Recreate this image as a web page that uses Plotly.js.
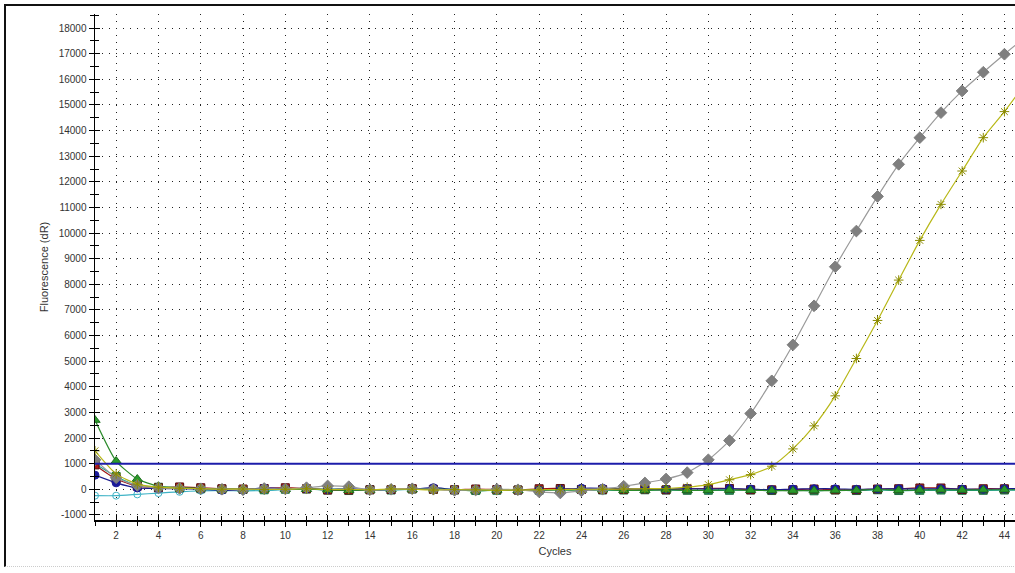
<!DOCTYPE html>
<html>
<head>
<meta charset="utf-8">
<script src="https://cdn.plot.ly/plotly-3.0.1.min.js"></script>
<style>
  html, body { margin: 0; padding: 0; background: #ffffff; }
  #wrap { position: relative; width: 1015px; height: 573px; overflow: hidden; background: #fff; }
  #frame { position: absolute; left: 4px; top: 4px; width: 1100px; height: 563px;
           border-top: 2px solid #111; border-left: 2px solid #111; border-bottom: 1px dotted #ccc; box-sizing: border-box; pointer-events: none; }
  #chart { position: absolute; left: 0; top: 0; width: 1015px; height: 573px; }
</style>
</head>
<body>
<div id="wrap">
  <div id="chart"></div>
  <div id="frame"></div>
</div>
<script>
// Cycles 1..45
const cycles = [1,2,3,4,5,6,7,8,9,10,11,12,13,14,15,16,17,18,19,20,21,22,23,24,25,26,27,28,29,30,31,32,33,34,35,36,37,38,39,40,41,42,43,44,45];

const threshold = 1000;

const grayDiamonds = [1150,450,150,50,30,20,0,-20,30,10, 60,130,100,-20,0,20,0,-40,-30,0, -20,-100,-145,-60,0,117,246,400,650,1150, 1900,2956,4232,5638,7161,8685,10078,11430,12683,13723, 14700,15547,16277,16980,17650];
const oliveStars   = [1500,600,200,80,40,20,0,10,-10,0, 20,-10,0,-20,10,0,-30,-10,-20,-40, -30,-20,-10,0,0,10,20,30,80,182, 370,570,900,1575,2474,3646,5104,6589,8164,9713, 11120,12422,13723,14740,15850];
const greenTriangles = [2700,1100,400,120,60,30,10,0,-10,0, 0,-20,-40,-30,0,-10,20,-20,-60,-30, -40,-20,-30,-30,-20,-40,-40,-20,-40,-40, -30,-40,-50,-60,-50,-50,-40,-10,-40,-30, -20,-30,-20,-20,-20];
const navyCircles  = [550,250,50,30,20,0,-40,-20,50,20, 20,-10,20,-10,-10,0,60,-10,-20,-10, -40,-30,0,40,40,20,10,0,30,10, 30,10,-20,10,20,20,0,10,20,10, 20,10,0,20,20];
const redSquares   = [950,400,120,60,90,60,20,10,30,60, 20,-30,-30,-20,-10,20,0,-20,10,-10, -30,20,30,-10,-10,0,10,-20,20,30, 30,-20,-20,-20,10,-20,-20,10,20,50, 50,-10,20,20,20];
const cyanCircles  = [-250,-250,-200,-150,-100,-60,-40,-60,-50,-20, 10,20,0,-20,-10,-10,20,-10,-20,-40, -30,-20,-20,-10,-10,-20,-30,-20,-30,-30, -20,-20,-10,-20,-30,-30,-30,-20,-40,-40, -40,-40,-30,-30,-30];
const tealSquares  = [1000,500,150,80,50,20,0,-10,-20,0, 10,-30,-50,-20,-30,10,-10,-30,-50,-40, -30,-40,-20,-10,-30,-30,-20,-30,-40,-40, -40,-30,-50,-40,-60,-30,-50,-20,-50,-40, -30,-40,-40,-30,-30];

const xTickVals = [2,4,6,8,10,12,14,16,18,20,22,24,26,28,30,32,34,36,38,40,42,44];
const yTickVals = [-1000,0,1000,2000,3000,4000,5000,6000,7000,8000,9000,10000,11000,12000,13000,14000,15000,16000,17000,18000];

function series(y, lineColor, markerSymbol, markerColor, lineOutline, size) {
  return {
    x: cycles, y: y, type: 'scatter', mode: 'lines+markers',
    line: { color: lineColor, width: 1.2, shape: 'spline', smoothing: 0.6 },
    marker: { symbol: markerSymbol, size: size || 8, color: markerColor,
              line: { color: lineOutline || markerColor, width: 1 } },
    hoverinfo: 'x+y', showlegend: false, cliponaxis: true
  };
}

const traces = [
  series(cyanCircles, '#3fb3c6', 'circle-open', '#3fb3c6', null, 7),
  series(tealSquares, '#14a091', 'square', '#1f8c4e', '#1f6e40', 8),
  series(redSquares, '#a01515', 'square', '#b01a1a', '#5a1010', 8),
  series(navyCircles, '#1a1a8c', 'circle', '#1a1a9a', null, 8),
  series(greenTriangles, '#2a8a2a', 'triangle-up', '#2a9a2a', '#1f6e1f', 9),
  series(grayDiamonds, '#9a9a9a', 'diamond', '#7f7f7f', null, 9),
  series(oliveStars, '#b8b818', 'asterisk', '#8a8a00', null, 8),
  { x: [], y: [], xaxis: 'x2', yaxis: 'y2', type: 'scatter', showlegend: false }
];

const tickFont = { family: 'Liberation Sans, Arial, sans-serif', size: 10, color: '#333' };

const layout = {
  width: 1015, height: 573,
  margin: { l: 95, r: 0, t: 14, b: 53 },
  paper_bgcolor: 'rgba(0,0,0,0)', plot_bgcolor: 'rgba(0,0,0,0)',
  showlegend: false,
  xaxis: {
    range: [1, 44.5], tickvals: xTickVals, ticktext: xTickVals.map(String),
    ticks: 'outside', ticklen: 5, tickcolor: '#000', tickwidth: 1,
    minor: { dtick: 1, tick0: 0, ticks: 'outside', ticklen: 4, tickcolor: '#000', showgrid: false },
    showline: true, linecolor: '#000', linewidth: 1.5,
    showgrid: true, gridcolor: '#222', gridwidth: 1, griddash: '1px,6px',
    zeroline: false, tickfont: tickFont,
    title: { text: 'Cycles', font: { family: 'Liberation Sans, Arial, sans-serif', size: 11, color: '#333' }, standoff: 8 }
  },
  yaxis: {
    range: [-1200, 18550], tickvals: yTickVals, ticktext: yTickVals.map(String),
    ticks: 'outside', ticklen: 5, tickcolor: '#000', tickwidth: 1,
    minor: { dtick: 500, tick0: 0, ticks: 'outside', ticklen: 4, tickcolor: '#000', showgrid: false },
    showline: true, linecolor: '#000', linewidth: 1.5,
    showgrid: true, gridcolor: '#222', gridwidth: 1, griddash: '1px,6px',
    zeroline: false, tickfont: tickFont,
    title: { text: 'Fluorescence (dR)', font: { family: 'Liberation Sans, Arial, sans-serif', size: 11, color: '#333' }, standoff: 8 }
  },
  xaxis2: {
    overlaying: 'x', matches: 'x', anchor: 'y2', side: 'bottom',
    tickvals: xTickVals, ticks: 'inside', ticklen: 5, tickcolor: '#000',
    minor: { dtick: 1, tick0: 0, ticks: 'inside', ticklen: 4, tickcolor: '#000', showgrid: false },
    showticklabels: false, showgrid: false, zeroline: false, showline: false
  },
  yaxis2: {
    overlaying: 'y', matches: 'y', anchor: 'x2', side: 'left',
    tickvals: yTickVals, ticks: 'inside', ticklen: 5, tickcolor: '#000',
    minor: { dtick: 500, tick0: 0, ticks: 'inside', ticklen: 4, tickcolor: '#000', showgrid: false },
    showticklabels: false, showgrid: false, zeroline: false, showline: false
  },
  shapes: [
    { type: 'line', xref: 'paper', yref: 'y', x0: 0, x1: 1, y0: threshold, y1: threshold,
      line: { color: '#1c1caa', width: 2 }, layer: 'above' }
  ]
};

Plotly.newPlot('chart', traces, layout, { displayModeBar: false, staticPlot: true });
</script>
</body>
</html>
